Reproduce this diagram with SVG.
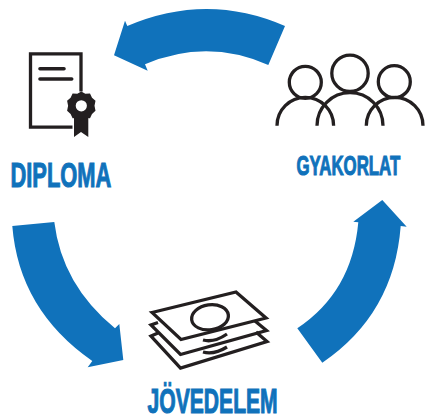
<svg xmlns="http://www.w3.org/2000/svg" width="425" height="416" viewBox="0 0 425 416">
<style>
.arrow{fill:#1072bb}
.line{fill:none;stroke:#231f20;stroke-width:3.3}
.label{fill:#1072bb;stroke:#1072bb;stroke-width:1.1;font-family:"Liberation Sans",Arial,sans-serif;font-weight:700}
</style>
<rect width="425" height="416" fill="#fff"/>
<g id="connectors">
<path class="arrow" d="M285 26Q207 -8 127.3 26L125 20.7L114 55.3L147.7 70.7L145 64.3Q207 38 268.3 65Z"/>
<path class="arrow" d="M12.3 226L54.3 222Q62 285 115 328.3L119.3 324L123.3 360L87.7 367.3L92.3 361Q19 310 12.3 226Z"/>
<path class="arrow" d="M297.3 328.3Q352 292 358.3 222.3L353.3 221.7L382.3 200L406.7 226.7L400.7 226Q394 314 322.3 362.7Z"/>
</g>
<g id="diploma">
<path class="line" d="M81 91.5V53.8H30.5V127.2H72.5"/>
<path d="M40 68.7H64M40 79H71.7" fill="none" stroke="#231f20" stroke-width="3.6" stroke-linecap="round"/>
<path fill="#231f20" d="M74 118H88.3V137L81 132L74 137Z"/>
<path fill="#231f20" fill-rule="evenodd" d="M81.3 91.5L85.3 93.8L90 93.5L92 97.7L95.5 100.8L94.5 105.8L95.5 110.8L92 113.9L90 118.2L85.3 118L81.3 120.5L77.3 118L72.6 118.2L70.6 113.9L67.1 110.8L68.1 105.8L67.1 100.8L70.6 97.7L72.6 93.5L77.3 93.8ZM81.3 100.2A5.6 5.6 0 1 0 81.3 111.4A5.6 5.6 0 1 0 81.3 100.2Z"/>
<text class="label" transform="translate(10.5 186.8) scale(.625 1)" font-size="35">DIPLOMA</text>
</g>
<g id="gyakorlat">
<circle class="line" cx="305.3" cy="82.3" r="16"/>
<circle class="line" cx="350" cy="73.3" r="18.2"/>
<circle class="line" cx="394.3" cy="81.7" r="16"/>
<path class="line" d="M277 125.7A28.3 28.3 0 0 1 333.6 125.7M317 125.7A33 33 0 0 1 383 125.7M366.3 125.7A28.3 28.3 0 0 1 423 125.7"/>
<text class="label" transform="translate(296.5 174.6) scale(.612 1)" font-size="27.5">GYAKORLAT</text>
</g>
<g id="jovedelem">
<path class="line" d="M152 312.5L236 292L266 318L181 339.5Z"/>
<ellipse class="line" cx="210" cy="317.3" rx="18.5" ry="12.5" transform="rotate(-8 210 317.3)"/>
<path class="line" d="M158 322.5L151 325L180.5 354.5L266.5 330.5L255 321"/>
<path class="line" d="M158 333L151 336L180.5 368L267 341.5L256 332"/>
<path class="line" d="M203 340Q214 343 227 334M203 352Q214 355 227 347"/>
<text class="label" transform="translate(147.5 412.9) scale(.612 1)" font-size="34.5">JÖVEDELEM</text>
</g>
</svg>
